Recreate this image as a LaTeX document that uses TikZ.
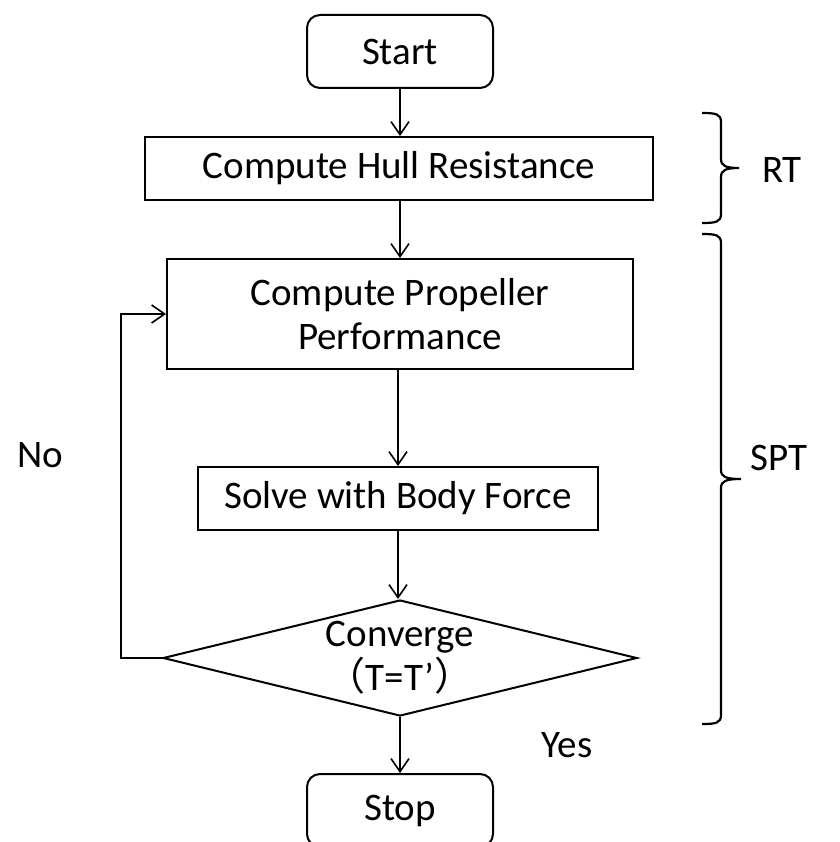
\documentclass[tikz,border=0pt]{standalone}
\usepackage{fontspec}
\setmainfont{Carlito}
\newfontfamily\cjk{Noto Sans CJK SC}
\usetikzlibrary{shapes.geometric,arrows.meta}
\begin{document}
\begin{tikzpicture}[x=1pt,y=-1pt,
  every node/.style={font=\fontsize{39}{44}\selectfont, inner sep=0pt},
  box/.style={draw, line width=2pt, align=center},
  term/.style={box, rounded corners=13pt, minimum width=186pt, minimum height=73pt},
  arr/.style={line width=1.6pt, -{Straight Barb[length=13pt,width=18pt,line width=1.6pt]}},
  brace/.style={line width=2.2pt}]
\useasboundingbox (0,0) rectangle (839,842);
\clip (0,0) rectangle (839,842);

% process chain
\node[term] (start) at (400,51.5) {Start};
\node[box, minimum width=508pt, minimum height=63pt] (hull) at (399,168.5) {Compute Hull Resistance};
\node[box, minimum width=466pt, minimum height=110pt] (prop) at (400,314) {Compute Propeller\\Performance};
\node[box, minimum width=400pt, minimum height=63pt] (solve) at (398,498.5) {Solve with Body Force};
\node[diamond, draw, line width=2pt, aspect=4.09, minimum width=474pt, minimum height=116pt] (dia) at (400,658) {};
\node[align=center] (dtext) at (400,658) {Converge\\{\cjk （}T=T’{\cjk ）}};
\node[term] (stop) at (400,810.5) {Stop};

% connectors
\draw[arr] (start.south) -- (hull.north -| start.south);
\draw[arr] (hull.south -| start.south) -- (prop.north);
\draw[arr] (prop.south -| solve.north) -- (solve.north);
\draw[arr] (solve.south) -- (dia.north -| solve.south);
\draw[arr] (dia.south) -- (stop.north);
\draw[arr] (dia.west) -- ++(-41,0) |- (prop.west);

% branch labels
\node (no) at (40,455) {No};
\node (yes) at (567,745) {Yes};

% braces grouping the stages
\coordinate (rtTop) at (702,113);
\coordinate (rtTip) at (739,168);
\coordinate (rtBot) at (702,223);
\draw[brace] (rtTop) .. controls (716,113) and (721,114) .. (721,122)
  -- (721,159) .. controls (721,166) and (726,168) .. (rtTip)
  .. controls (726,168) and (721,170) .. (721,177)
  -- (721,214) .. controls (721,222) and (716,223) .. (rtBot);
\node (rt) at (782,170) {RT};

\coordinate (sptTop) at (702,234);
\coordinate (sptTip) at (741,479);
\coordinate (sptBot) at (702,724);
\draw[brace] (sptTop) .. controls (716,234) and (721,235) .. (721,243)
  -- (721,470) .. controls (721,477) and (726,479) .. (sptTip)
  .. controls (726,479) and (721,481) .. (721,488)
  -- (721,715) .. controls (721,723) and (716,724) .. (sptBot);
\node (spt) at (779,458) {SPT};
\end{tikzpicture}
\end{document}
